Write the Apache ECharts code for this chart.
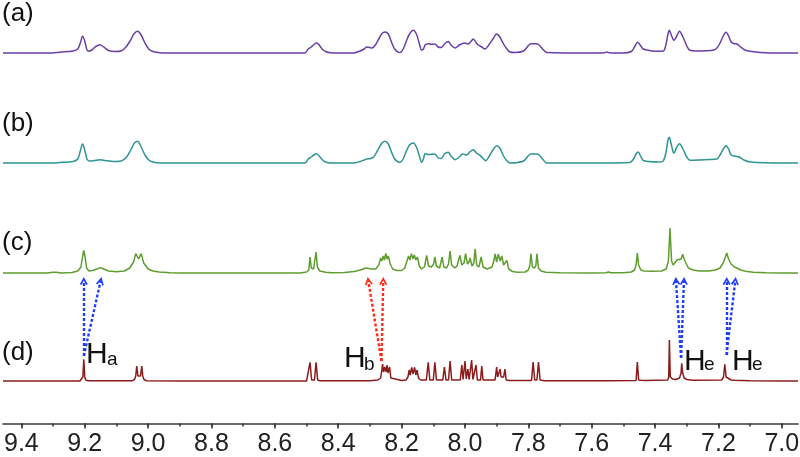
<!DOCTYPE html>
<html><head><meta charset="utf-8">
<script src="https://cdn.jsdelivr.net/npm/echarts@6/dist/echarts.min.js"></script>
<style>html,body{margin:0;padding:0;background:#fff}#c{width:800px;height:457px}</style>
</head><body><div id="c"></div>
<script>
// ---- data (ppm, intensity above each trace's baseline) ----
const majorTickStep = 0.2, minorTickStep = 0.1;
const tickLabelRange = [7.0, 9.4];
const traceNames = ['(a)','(b)','(c)','(d)'];

const specA = [[9.458,0],[9.304,0],[9.279,0.8],[9.237,2],[9.222,4],[9.214,10],[9.207,16.7],[9.200,12],[9.194,4],[9.189,1.8],[9.178,3],[9.165,6.5],[9.152,8.3],[9.140,6],[9.125,2.5],[9.105,1.5],[9.085,2],[9.070,6],[9.055,13],[9.045,19],[9.033,21.7],[9.022,18],[9.010,10],[8.998,4],[8.985,1.5],[8.963,0.3],[8.9,0],[8.7,0],[8.505,0],[8.495,4],[8.485,6],[8.475,9],[8.468,10],[8.460,8],[8.451,4],[8.440,1.5],[8.424,0.3],[8.353,0],[8.331,2],[8.318,4],[8.310,6],[8.300,5.5],[8.294,5],[8.285,7],[8.272,14],[8.262,19.5],[8.252,21],[8.242,19],[8.232,11],[8.222,4],[8.211,0.8],[8.205,0.5],[8.195,4],[8.185,12],[8.175,19],[8.163,22.7],[8.152,18],[8.143,8],[8.137,3],[8.131,4],[8.126,8],[8.116,9.3],[8.105,8.7],[8.095,9],[8.085,6],[8.075,5.5],[8.065,9],[8.053,11.5],[8.044,8],[8.031,5],[8.018,8],[8.000,10],[7.990,9],[7.980,12],[7.974,14],[7.964,10],[7.958,8],[7.947,6],[7.937,4],[7.925,8],[7.912,14],[7.900,19],[7.890,16],[7.880,10],[7.870,5],[7.858,1],[7.842,0.5],[7.815,2],[7.801,7],[7.792,9.3],[7.776,9.3],[7.766,8],[7.755,4],[7.742,0.5],[7.6,0],[7.56,0.3],[7.553,1],[7.545,0.3],[7.50,0],[7.475,1.5],[7.465,6],[7.455,10.7],[7.445,7],[7.438,4],[7.425,3],[7.41,2],[7.39,1.8],[7.374,2],[7.366,8],[7.360,18],[7.355,22.7],[7.349,18],[7.340,12.7],[7.333,16],[7.323,21.7],[7.312,16],[7.300,7],[7.290,2.7],[7.270,2],[7.240,2.2],[7.215,3],[7.205,5],[7.195,10],[7.185,17],[7.176,20.7],[7.168,17],[7.160,11],[7.150,9.3],[7.141,9],[7.130,6],[7.116,3],[7.100,1.7],[7.068,0.5],[7.0,0],[6.949,0]];

const specB = [[9.458,0],[9.304,0],[9.279,0.5],[9.237,1.5],[9.222,4],[9.214,12],[9.207,19],[9.200,13],[9.193,4],[9.185,2],[9.170,2.5],[9.152,3.3],[9.135,2.5],[9.110,1.5],[9.085,2],[9.068,6],[9.053,14],[9.043,20],[9.033,21.7],[9.022,16],[9.010,8],[8.998,3],[8.985,1],[8.963,0],[8.7,0],[8.505,0],[8.495,4],[8.485,6],[8.475,8.5],[8.468,9.3],[8.460,7],[8.451,3.5],[8.440,1],[8.424,0],[8.353,0],[8.331,1.5],[8.318,3],[8.310,4],[8.298,4.5],[8.288,6],[8.275,13],[8.262,20],[8.252,21.7],[8.242,19],[8.232,11],[8.222,4],[8.211,1],[8.205,0.7],[8.195,4],[8.185,12],[8.175,18],[8.163,20],[8.152,15],[8.143,6],[8.137,0.7],[8.131,4],[8.126,9.3],[8.116,8.5],[8.105,8.7],[8.096,9],[8.084,5],[8.075,4.5],[8.065,9],[8.053,10.7],[8.044,7],[8.031,3.3],[8.018,6],[8.007,9],[7.995,8],[7.985,11],[7.974,13.3],[7.964,10],[7.953,7.7],[7.944,5],[7.935,2.3],[7.925,6],[7.912,13],[7.900,17.3],[7.890,15],[7.880,8],[7.870,3],[7.858,0],[7.815,2],[7.801,7],[7.792,9],[7.776,9],[7.766,8],[7.755,4],[7.742,0],[7.6,0],[7.480,0.5],[7.468,4],[7.460,9],[7.453,11],[7.446,7],[7.438,2.7],[7.42,1.5],[7.39,1],[7.376,1.5],[7.366,10],[7.360,22],[7.355,25.7],[7.350,20],[7.343,11],[7.340,10],[7.333,15],[7.323,19.3],[7.312,14],[7.300,6],[7.290,2.7],[7.26,3],[7.23,3.5],[7.205,4],[7.195,8],[7.185,14],[7.176,17.3],[7.168,14],[7.160,8],[7.145,6.7],[7.135,6],[7.120,3],[7.100,1],[7.0,0],[6.949,0]];

const specC = [[9.458,0],[9.32,0],[9.30,0.8],[9.29,0.8],[9.275,0],[9.24,0.5],[9.222,2],[9.212,6],[9.207,16],[9.203,22.7],[9.199,16],[9.194,5],[9.187,2],[9.175,2.5],[9.162,4],[9.150,5.4],[9.140,4],[9.125,2],[9.100,1.2],[9.075,2],[9.058,5],[9.046,11],[9.039,19.4],[9.030,14],[9.022,19.4],[9.014,10],[9.000,4],[8.985,2],[8.965,1],[8.93,0.3],[8.9,0],[8.52,0],[8.500,1],[8.493,3],[8.489,16],[8.485,5],[8.478,4],[8.474,6],[8.470,21],[8.466,6],[8.458,2],[8.452,2],[8.44,0.8],[8.42,0.3],[8.38,0.5],[8.35,1.5],[8.33,3],[8.312,5],[8.295,4],[8.282,4],[8.272,8],[8.266,15],[8.262,12],[8.258,17],[8.254,13],[8.250,19.7],[8.246,14],[8.242,17],[8.236,9],[8.228,4],[8.215,2.5],[8.200,2.5],[8.190,5],[8.183,12],[8.178,17],[8.174,13],[8.169,19.4],[8.164,14],[8.160,18],[8.155,13],[8.150,16],[8.144,7],[8.137,4],[8.128,6],[8.121,17.7],[8.115,7],[8.106,6],[8.099,9],[8.095,16],[8.090,7],[8.080,5],[8.075,7],[8.072,16],[8.067,6],[8.058,5],[8.052,9],[8.047,22],[8.042,8],[8.032,5],[8.025,7],[8.016,17.7],[8.010,8],[8.003,10],[7.998,19.3],[7.992,9],[7.986,12],[7.984,15],[7.978,7],[7.972,10],[7.968,24.3],[7.963,8],[7.956,6],[7.949,16],[7.943,6],[7.930,4],[7.915,6],[7.909,12],[7.905,19],[7.900,11],[7.895,19],[7.889,12],[7.884,17],[7.878,8],[7.868,12.7],[7.862,4],[7.850,1.5],[7.835,0.8],[7.81,1],[7.800,3],[7.795,8],[7.792,19.3],[7.787,6],[7.780,5],[7.776,8],[7.773,19.3],[7.768,5],[7.760,2],[7.745,0.8],[7.70,0.3],[7.6,0],[7.555,0.3],[7.547,1],[7.540,0.3],[7.50,0.3],[7.475,1],[7.465,3],[7.460,8],[7.456,20],[7.452,8],[7.445,3],[7.435,2],[7.41,1.8],[7.38,2],[7.365,4],[7.358,12],[7.353,45],[7.348,12],[7.343,8],[7.338,9],[7.331,13],[7.325,12],[7.318,14],[7.313,18.7],[7.306,12],[7.295,5],[7.28,3],[7.26,2],[7.23,2],[7.21,3],[7.195,5],[7.185,10],[7.178,16],[7.174,20],[7.168,14],[7.160,9],[7.150,6],[7.142,5],[7.130,3],[7.115,1.8],[7.09,0.8],[7.05,0.3],[7.0,0],[6.949,0]];

const specD = [[9.458,0],[9.215,0],[9.209,1],[9.206,4],[9.203,21.7],[9.200,4],[9.197,1],[9.190,0.3],[9.05,0.3],[9.043,1.5],[9.039,5],[9.036,15],[9.032,5],[9.028,4],[9.024,5],[9.020,15],[9.017,5],[9.013,1.5],[9.005,0.3],[8.9,0],[8.50,0],[8.494,1],[8.489,18.7],[8.484,1],[8.475,1],[8.470,18.7],[8.465,1],[8.458,0.3],[8.30,0.3],[8.275,1],[8.266,3],[8.262,12],[8.260,17],[8.257,9],[8.253,14],[8.249,9],[8.246,16],[8.243,8],[8.238,14],[8.234,3],[8.229,1],[8.20,0.5],[8.186,1],[8.180,4],[8.176,11],[8.173,6],[8.168,13.7],[8.164,7],[8.159,13.7],[8.155,6],[8.151,11],[8.147,3],[8.140,1],[8.122,1],[8.116,18.7],[8.111,1],[8.100,1],[8.095,18.7],[8.090,1],[8.070,1],[8.065,14],[8.060,1],[8.052,1],[8.047,20],[8.042,1],[8.015,1],[8.010,16],[8.006,1.5],[8.003,1.5],[8.000,20],[7.996,2],[7.994,2],[7.991,12],[7.987,1.5],[7.983,1.5],[7.979,21],[7.975,1.5],[7.969,1.5],[7.965,16],[7.961,1],[7.951,1],[7.947,15],[7.943,1],[7.905,1],[7.900,14],[7.897,4],[7.893,4],[7.889,12],[7.886,4],[7.878,4],[7.874,12],[7.870,1],[7.860,0.5],[7.79,0.5],[7.785,19],[7.780,1],[7.773,1],[7.768,19],[7.763,1],[7.75,0.3],[7.556,0.3],[7.552,1],[7.548,0.3],[7.46,0.5],[7.459,1],[7.456,19],[7.452,1],[7.445,0.8],[7.43,0.5],[7.36,1],[7.357,4],[7.355,41],[7.352,4],[7.345,2],[7.335,1.5],[7.323,3],[7.318,8],[7.316,17.7],[7.313,8],[7.308,3],[7.30,1.5],[7.28,0.8],[7.19,1],[7.184,4],[7.180,16.7],[7.176,4],[7.170,2],[7.16,1],[7.15,0.8],[7.1,0.3],[7.0,0],[6.949,0]];

// annotation arrows: [start, end] in (ppm, page-y)
const arrowsBlue = [[[9.203,356],[9.203,281]],[[9.203,356],[9.150,281]],[[7.318,358],[7.334,281]],[[7.318,358],[7.309,281]],[[7.175,355],[7.174,281]],[[7.175,355],[7.147,281]]];
const arrowsRed = [[[8.2635,361],[8.305,281]],[[8.2635,361],[8.258,281]]];

// ---- layout ----
const X_MIN = 6.949, X_MAX = 9.458, LEFT = 3, WIDTH = 795;
const PX_PER_PPM = WIDTH / (X_MAX - X_MIN);
const colors = ['#6a3fa6','#2e9494','#5e9d2e','#8c1c1c'];
const baselines = [53, 163, 273, 381];
const FONT = '"Liberation Sans", Arial, sans-serif';
const AXIS_COLOR = '#3a3a3a';
const AXIS_TOP = 331, AXIS_H = 92.5;

const grids = [], xAxes = [], yAxes = [], series = [];
const specs = [specA, specB, specC, specD];
specs.forEach((s, i) => {
  const isLast = i === 3;
  const top = baselines[i] - 50;
  const below = isLast ? 42.5 : 10;
  grids.push({left: LEFT, width: WIDTH, top: top, height: 50 + below, containLabel:false, outerBoundsMode:'none'});
  xAxes.push({type:'value', gridIndex:i, min:X_MIN, max:X_MAX, inverse:true,
    show: isLast,
    axisLine:{show:isLast, onZero:false, lineStyle:{color:AXIS_COLOR, width:1.6}},
    axisTick:{show:false}, axisLabel:{show:false}, splitLine:{show:false}});
  yAxes.push({type:'value', gridIndex:i, min:-below, max:50, show:false});
  series.push({type:'line', xAxisIndex:i, yAxisIndex:i, data:s, showSymbol:false, symbol:'none',
    smooth: i < 2 ? 0.3 : false, lineStyle:{color:colors[i], width:1.5}, silent:true});
});
// overlay grid for annotations (grid 4, xAxis 4, yAxis 4)
grids.push({left: LEFT, width: WIDTH, top: 0, height: 457, containLabel:false, outerBoundsMode:'none'});
xAxes.push({type:'value', gridIndex:4, min:X_MIN, max:X_MAX, inverse:true, show:false});
yAxes.push({type:'value', gridIndex:4, min:0, max:457, inverse:true, show:false});

// tick grids: same scale, extended to round limits so interval ticks line up
function tickGrid(idx, lo, hi, step, len, labels){
  const left = LEFT + (X_MAX - hi) * PX_PER_PPM;
  grids.push({left: left, width: (hi - lo) * PX_PER_PPM, top: AXIS_TOP, height: AXIS_H, containLabel:false, outerBoundsMode:'none'});
  xAxes.push({type:'value', gridIndex:idx, position:'bottom', min:lo, max:hi, interval:step, inverse:true,
    axisLine:{show:false, onZero:false}, splitLine:{show:false},
    axisTick:{show:true, length:len, lineStyle:{color:AXIS_COLOR, width:1.6}},
    axisLabel:{show:labels, showMinLabel:true, showMaxLabel:true, hideOverlap:false, margin:8, fontSize:25, fontFamily:FONT, color:'#222',
      formatter: v => (v < tickLabelRange[0] - 1e-6 || v > tickLabelRange[1] + 1e-6) ? '' : Number(v).toFixed(1)}});
  yAxes.push({type:'value', gridIndex:idx, min:0, max:1, show:false});
}
tickGrid(5, 6.9, 9.5, minorTickStep, 3, false);
tickGrid(6, 6.8, 9.6, majorTickStep, 5, true);

const chevron = 'path://M0,9 L6,0 L12,9 L9.6,9.8 L6,4.2 L2.4,9.8 Z';
function arrowSeries(list, color){
  return {type:'lines', coordinateSystem:'cartesian2d', xAxisIndex:4, yAxisIndex:4,
    data: list.map(a => ({coords:a})), symbol:['none', chevron], symbolSize:[10,8],
    lineStyle:{color:color, width:2.4, type:[3,2], opacity:1}, silent:true, z:5};
}
series.push(arrowSeries(arrowsBlue, '#1f3dff'));
series.push(arrowSeries(arrowsRed, '#ff2b1c'));

const txt = (t, left, top, size) => ({type:'text', left:left, top:top, silent:true,
  style:{text:t, font: size + 'px ' + FONT, fill:'#111'}});
const graphic = [
  txt(traceNames[0], 2, 1, 26), txt(traceNames[1], 2, 111, 26), txt(traceNames[2], 2, 230, 26), txt(traceNames[3], 2, 340, 26),
  txt('H', 86, 340, 30), txt('a', 107, 350, 19),
  txt('H', 344, 344, 30), txt('b', 364, 355, 19),
  txt('H', 684, 347, 30), txt('e', 704, 355, 19),
  txt('H', 732, 347, 30), txt('e', 752, 355, 19)
];

const chart = echarts.init(document.getElementById('c'), null, {renderer:'canvas'});
chart.setOption({animation:false, grid:grids, xAxis:xAxes, yAxis:yAxes, series:series, graphic:graphic});
</script></body></html>
